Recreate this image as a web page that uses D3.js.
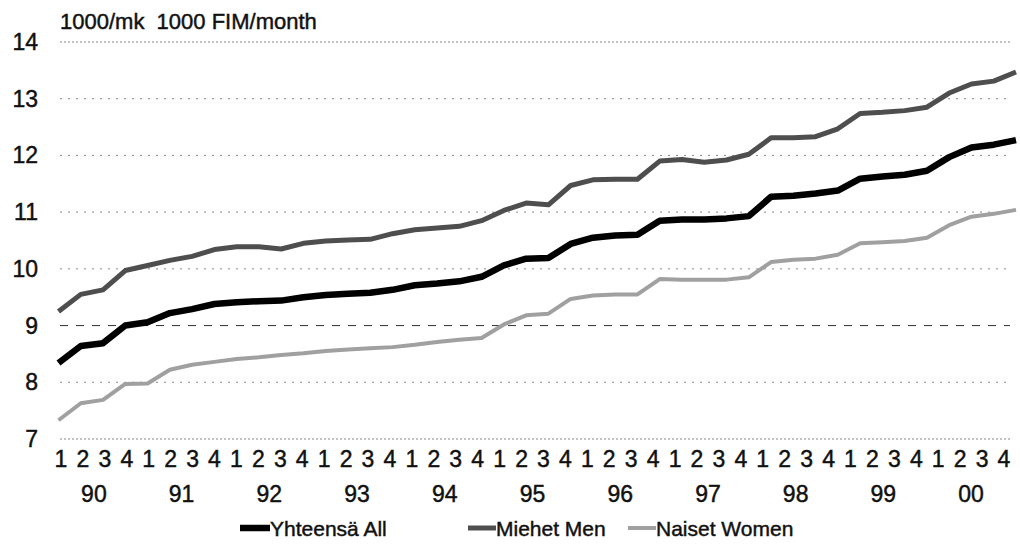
<!DOCTYPE html>
<html>
<head>
<meta charset="utf-8">
<script src="https://cdn.jsdelivr.net/npm/d3@7"></script>
<style>
  body { margin: 0; background: #fff; }
  svg { display: block; font-family: "Liberation Sans", Arial, sans-serif; }
  text { fill: #111; stroke: #111; stroke-width: 0.45px; }
</style>
</head>
<body>
<svg width="1020" height="546"></svg>
<script>
// Quarters 1990 Q1 - 2000 Q4
const years = ["90", "91", "92", "93", "94", "95", "96", "97", "98", "99", "00"];
const quarters = ["1", "2", "3", "4"];

// Average monthly earnings, 1000 FIM
const allValues = [
  8.34, 8.64, 8.69, 9.00, 9.06, 9.22, 9.29, 9.38, 9.41, 9.43, 9.44,
  9.50, 9.54, 9.56, 9.58, 9.63, 9.71, 9.74, 9.78, 9.86, 10.06, 10.18,
  10.19, 10.44, 10.55, 10.59, 10.60, 10.85, 10.87, 10.87, 10.89, 10.93, 11.27,
  11.29, 11.33, 11.38, 11.59, 11.63, 11.66, 11.73, 11.97, 12.14, 12.19, 12.27
];
const menValues = [
  9.25, 9.55, 9.63, 9.97, 10.06, 10.15, 10.22, 10.34, 10.39, 10.39, 10.35,
  10.45, 10.49, 10.51, 10.52, 10.62, 10.69, 10.72, 10.75, 10.85, 11.03, 11.16,
  11.13, 11.47, 11.57, 11.58, 11.58, 11.90, 11.93, 11.88, 11.92, 12.02, 12.31,
  12.31, 12.33, 12.47, 12.74, 12.76, 12.79, 12.85, 13.10, 13.26, 13.31, 13.47
];
const womenValues = [
  7.33, 7.63, 7.69, 7.97, 7.98, 8.22, 8.31, 8.36, 8.41, 8.44, 8.48,
  8.51, 8.55, 8.58, 8.60, 8.62, 8.66, 8.71, 8.75, 8.78, 9.02, 9.18,
  9.21, 9.47, 9.53, 9.55, 9.55, 9.82, 9.81, 9.81, 9.81, 9.85, 10.12,
  10.16, 10.18, 10.25, 10.45, 10.47, 10.49, 10.55, 10.77, 10.92, 10.97, 11.04
];
const yTicks = [7, 8, 9, 10, 11, 12, 13, 14];

const seriesNames = ["Yhteensä All", "Miehet Men", "Naiset Women"];

const svg = d3.select("svg");

// Scales
const n = allValues.length;
const x = d3.scaleLinear().domain([0, n - 1]).range([58.5, 1016]);
const xLabel = d3.scaleLinear().domain([0, n - 1]).range([61, 1004]);
const y = d3.scaleLinear().domain([7, 14]).range([439, 42]);

// Grid lines
svg.append("g")
  .selectAll("line")
  .data(yTicks)
  .enter()
  .append("line")
  .attr("x1", 60)
  .attr("x2", 1010)
  .attr("y1", d => y(d))
  .attr("y2", d => y(d))
  .attr("stroke", d => d == 9 ? "#333" : "#888")
  .attr("stroke-width", 1)
  .attr("stroke-dasharray", d => d == 9 ? "8,8" : (d == 7 || d == 14) ? "2,2" : "2,6");

// Y axis labels
svg.append("g")
  .selectAll("text")
  .data(yTicks)
  .enter()
  .append("text")
  .attr("x", 38)
  .attr("y", d => y(d) + 8)
  .attr("text-anchor", "end")
  .style("font-size", "23px")
  .text(d => d);

// Unit title
svg.append("text")
  .attr("x", 60)
  .attr("y", 29)
  .style("font-size", "22px")
  .text("1000/mk\u00a0\u00a01000 FIM/month");

// Quarter labels
const quarterLabels = [];
years.forEach(() => quarters.forEach(q => quarterLabels.push(q)));

svg.append("g")
  .selectAll("text")
  .data(quarterLabels)
  .enter()
  .append("text")
  .attr("x", (d, i) => xLabel(i))
  .attr("y", 467)
  .attr("text-anchor", "middle")
  .style("font-size", "23px")
  .text(d => d);

// Year labels, centered under each group of four
svg.append("g")
  .selectAll("text")
  .data(years)
  .enter()
  .append("text")
  .attr("x", (d, i) => xLabel(i * 4 + 1.5))
  .attr("y", 502)
  .attr("text-anchor", "middle")
  .style("font-size", "23px")
  .text(d => d);

// Lines
const line = d3.line()
  .x((d, i) => x(i))
  .y(d => y(d));

const styles = [
  {values: allValues, color: "#000", width: 6.5},
  {values: menValues, color: "#4e4e4e", width: 5},
  {values: womenValues, color: "#a0a0a0", width: 4}
];

// draw women first so all/men lie on top
styles.slice().reverse().forEach(s => {
  svg.append("path")
    .datum(s.values)
    .attr("fill", "none")
    .attr("stroke", s.color)
    .attr("stroke-width", s.width)
    .attr("stroke-linejoin", "round")
    .attr("d", line);
});

// Legend
const legendX = [240, 468, 628];
const legend = svg.append("g")
  .selectAll("g")
  .data(seriesNames)
  .enter()
  .append("g")
  .attr("transform", (d, i) => "translate(" + legendX[i] + ",528)");

legend.append("line")
  .attr("x1", 0)
  .attr("x2", (d, i) => i == 0 ? 30 : 28)
  .attr("stroke", (d, i) => styles[i].color)
  .attr("stroke-width", (d, i) => styles[i].width);

legend.append("text")
  .attr("x", (d, i) => i == 0 ? 30 : 28)
  .attr("y", 8)
  .style("font-size", "21px")
  .text(d => d);
</script>
</body>
</html>
